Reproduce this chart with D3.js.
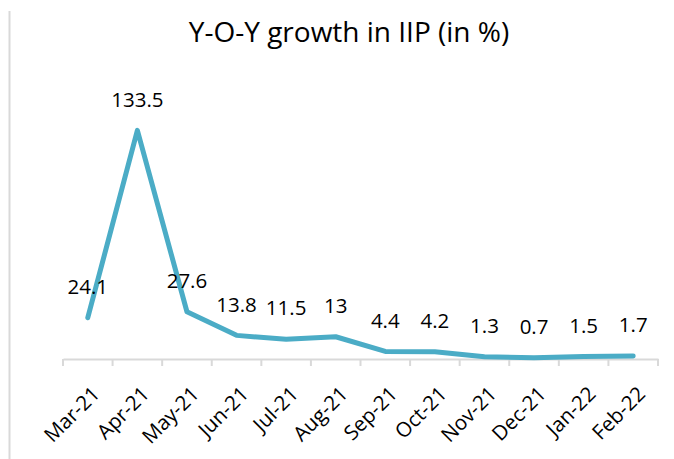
<!DOCTYPE html>
<html><head><meta charset="utf-8">
<script src="https://cdn.jsdelivr.net/npm/d3@7"></script>
<style>body{margin:0;background:#fff}svg{display:block}</style>
</head><body>
<svg id="chart" width="674" height="459"></svg>
<script>
const categories = ["Mar-21","Apr-21","May-21","Jun-21","Jul-21","Aug-21","Sep-21","Oct-21","Nov-21","Dec-21","Jan-22","Feb-22"];
const values = [24.1,133.5,27.6,13.8,11.5,13,4.4,4.2,1.3,0.7,1.5,1.7];
const labels = ["24.1","133.5","27.6","13.8","11.5","13","4.4","4.2","1.3","0.7","1.5","1.7"];
const title = "Y-O-Y growth in IIP (in %)";

(function(){
const svg = d3.select("#chart");
const font = "'Open Sans', sans-serif";
const mL = 63, mR = 658, mB = 359, mT = 85;

const x = d3.scaleBand().domain(categories).range([mL, mR]);
const y = d3.scaleLinear().domain([0, 160]).range([mB, mT]);

svg.append("line").attr("x1",9.5).attr("x2",9.5).attr("y1",11).attr("y2",459)
  .attr("stroke","#d9d9d9").attr("stroke-width",2);

svg.append("text").attr("x",349).attr("y",42).attr("text-anchor","middle")
  .attr("font-family",font).attr("font-size",28).attr("fill","#000").text(title);

const xAxis = d3.axisBottom(x).tickSize(0).tickFormat(d=>d);
const gx = svg.append("g").attr("transform",`translate(0,${mB})`).call(xAxis);
gx.select(".domain").attr("stroke","#d9d9d9").attr("stroke-width",2);
const bounds = categories.map(c=>x(c)).concat([mR]);
gx.selectAll("line.bt").data(bounds).enter().append("line").attr("class","bt")
  .attr("x1",d=>d).attr("x2",d=>d).attr("y1",0).attr("y2",7)
  .attr("stroke","#d9d9d9").attr("stroke-width",2);
gx.selectAll(".tick text")
  .attr("font-family",font).attr("font-size",20.5).attr("fill","#000")
  .attr("text-anchor","end")
  .attr("transform","translate(3,26) rotate(-45)")
  .attr("dy","0.71em").attr("y",0).attr("x",0);

const line = d3.line().x((d,i)=>x(categories[i])+x.bandwidth()/2).y(d=>y(d));
svg.append("path").datum(values).attr("d",line).attr("fill","none")
  .attr("stroke","#4bacc6").attr("stroke-width",5)
  .attr("stroke-linejoin","round").attr("stroke-linecap","round");

svg.selectAll("text.lbl").data(values).enter().append("text").attr("class","lbl")
  .attr("x",(d,i)=>x(categories[i])+x.bandwidth()/2)
  .attr("y",d=>y(d)-31).attr("dy","0.35em")
  .attr("text-anchor","middle").attr("font-family",font).attr("font-size",20.5)
  .attr("fill","#000").text((d,i)=>labels[i]);
})();
</script>
</body></html>
